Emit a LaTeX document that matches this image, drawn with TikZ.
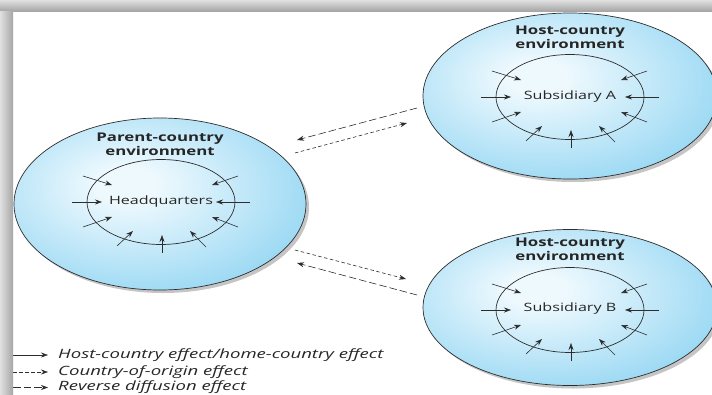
\documentclass[tikz,border=0pt]{standalone}
\usepackage{fontspec}
\usepackage{graphicx}
\setmainfont{Open Sans}
\usetikzlibrary{arrows.meta,shapes.geometric,shadings,shadows}
\definecolor{bluec}{RGB}{96,194,236}
\definecolor{lightc}{RGB}{238,249,254}
\definecolor{linec}{RGB}{45,45,45}
\pgfdeclareradialshading{envshade}{\pgfpoint{-6bp}{6bp}}{color(0bp)=(lightc); color(5bp)=(lightc); color(50bp)=(bluec); color(100bp)=(bluec)}
\newcommand{\stretchtxt}[2][1.4]{\scalebox{#1}[1]{#2}}
\newcommand{\effects}[1]{%
  \foreach \n/\sx/\sy/\tx/\ty in {1/-89/0/-59/0, 2/89/0/55/0, 3/-78/-26/-49/-17, 4/77/-26/51/-17, 5/-78/25/-49/15, 6/77/25/51/15, 7/-44/44/-28/29, 8/1/51/1/33, 9/45/45/29/29}{
    \coordinate (#1-s\n) at ([shift={(\sx,\sy)}]#1.center);
    \coordinate (#1-t\n) at ([shift={(\tx,\ty)}]#1.center);
    \draw[effect] (#1-s\n) -- (#1-t\n);
  }}
\tikzset{
  envell/.style={ellipse, draw=linec, line width=0.7pt, shading=envshade, inner sep=0pt,
    drop shadow={shadow xshift=3pt, shadow yshift=-3pt, fill=black!45}},
  innerell/.style={ellipse, draw=linec, line width=0.7pt, inner sep=0pt, minimum width=148pt, minimum height=85pt},
  title/.style={font=\bfseries\fontsize{12}{14}\selectfont, align=center, text=black!85, inner sep=0pt},
  lbl/.style={font=\fontsize{11.5}{14}\selectfont, text=black!85, inner sep=0pt},
  legtxt/.style={font=\itshape\fontsize{12.8}{14}\selectfont, text=black!85, inner sep=0pt, anchor=west},
  tip/.style={-{Stealth[length=7pt,width=5pt]}},
  effect/.style={draw=linec, line width=0.6pt, tip},
  origin/.style={draw=linec, line width=0.6pt, dash pattern=on 3.5pt off 2.5pt, tip},
  reverse/.style={draw=linec, line width=0.6pt, dash pattern=on 7.5pt off 3pt, tip}
}
\begin{document}
\begin{tikzpicture}[x=1pt,y=-1pt]
\useasboundingbox (0,0) rectangle (712,394);
\fill[white] (0,0) rectangle (712,394);

% environments
\node[envell, minimum width=292pt, minimum height=172pt] (parent) at (160,204) {};
\node[envell, minimum width=294pt, minimum height=166pt] (hostA) at (570,96) {};
\node[envell, minimum width=294pt, minimum height=156pt] (hostB) at (570,307.5) {};

% titles
\node[title] (parentT) at (160,144) {\stretchtxt{Parent-country}\\\stretchtxt{environment}};
\node[title] (hostAT) at (570,37) {\stretchtxt{Host-country}\\\stretchtxt{environment}};
\node[title] (hostBT) at (570,249) {\stretchtxt{Host-country}\\\stretchtxt{environment}};

% inner organisations
\node[innerell] (hqc) at (161,202) {};
\node[innerell] (subAc) at (570,97) {};
\node[innerell] (subBc) at (570,310) {};
\node[lbl] (hq) at (161,202) {\stretchtxt{Headquarters}};
\node[lbl] (subA) at (570,97) {\stretchtxt{Subsidiary A}};
\node[lbl] (subB) at (570,309) {\stretchtxt{Subsidiary B}};

\effects{hqc}
\effects{subAc}
\effects{subBc}

% transfer arrows
\coordinate (rA1) at (417,108);
\coordinate (rA2) at (297,140);
\coordinate (oA1) at (295,153);
\coordinate (oA2) at (407,123);
\coordinate (oB1) at (295,250);
\coordinate (oB2) at (406,279);
\coordinate (rB1) at (417,295);
\coordinate (rB2) at (297,263);
\draw[reverse] (rA1) -- (rA2);
\draw[origin] (oA1) -- (oA2);
\draw[origin] (oB1) -- (oB2);
\draw[reverse] (rB1) -- (rB2);

% legend
\coordinate (l1a) at (13,355); \coordinate (l1b) at (48,355);
\coordinate (l2a) at (13,372); \coordinate (l2b) at (48,372);
\coordinate (l3a) at (13,387.5); \coordinate (l3b) at (48,387.5);
\draw[effect] (l1a) -- (l1b);
\draw[origin] (l2a) -- (l2b);
\draw[reverse] (l3a) -- (l3b);
\node[legtxt] (leg1) at (58,355) {\stretchtxt[1.45]{Host-country effect/home-country effect}};
\node[legtxt] (leg2) at (58,372) {\stretchtxt[1.45]{Country-of-origin effect}};
\node[legtxt] (leg3) at (58,387.5) {\stretchtxt[1.45]{Reverse diffusion effect}};

% screenshot frame
\shade[top color=black!12, bottom color=black!35] (0,0) rectangle (712,11);
\shade[left color=black!12, right color=black!35] (0,11) rectangle (13,394);
\end{tikzpicture}
\end{document}
